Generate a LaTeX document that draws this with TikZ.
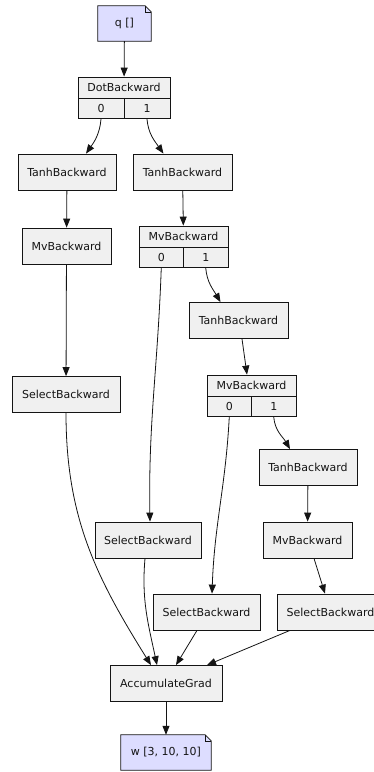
\documentclass[tikz,border=0pt]{standalone}
\usepackage{fontspec}
\setmainfont{DejaVu Sans}
\usepackage{tikz}
\usetikzlibrary{positioning, calc, arrows.meta, backgrounds}
\usepackage{xcolor}

\definecolor{fnfill}{RGB}{240,240,240}
\definecolor{tensorfill}{RGB}{221,221,255}
\definecolor{linecol}{RGB}{20,20,20}

\begin{document}
\begin{tikzpicture}[x=1pt, y=1pt,
    every node/.style={font=\fontsize{11}{13}\selectfont, text=linecol},
    fn/.style={draw=linecol, fill=fnfill, line width=0.8pt, minimum height=36pt, inner xsep=8.5pt, inner ysep=0pt},
    rec/.style={fn, minimum height=21pt},
    port/.style={fn, minimum height=20pt, inner xsep=0pt},
    tensor/.style={minimum height=35pt, inner xsep=8pt, inner ysep=0pt},
    outline/.style={draw=linecol, fill=tensorfill, line width=0.8pt},
    edge/.style={-{Triangle[length=9pt,width=7pt]}, draw=linecol, line width=0.8pt}]
  \useasboundingbox (0,0) rectangle (374,-772);

  % output and leaf tensors
  \node [tensor, minimum width=53pt] (q) at (124.5,-23.5) {q []};
  \node [tensor, minimum width=90pt] (w) at (166,-752.5) {w [3, 10, 10]};
  \begin{scope}[on background layer]
    \foreach \n in {q,w}{
      \draw [outline] (\n.south west) -- (\n.south east) -- ([yshift=-6pt]\n.north east)
        -- ([xshift=-6pt]\n.north east) -- (\n.north west) -- cycle;
      \draw [draw=linecol, line width=0.6pt] ([xshift=-6pt]\n.north east)
        -- ([xshift=-6pt,yshift=-6pt]\n.north east) -- ([yshift=-6pt]\n.north east);
    }
  \end{scope}

  % records with two ports
  \node [rec, minimum width=92pt] (dot) at (124,-87.5) {DotBackward};
  \node [port, minimum width=46pt, anchor=north west] (dot-0) at (dot.south west) {0};
  \node [port, minimum width=46pt, anchor=north east] (dot-1) at (dot.south east) {1};

  \node [rec, minimum width=89pt] (mvB) at (183.5,-236.5) {MvBackward};
  \node [port, minimum width=44.5pt, anchor=north west] (mvB-0) at (mvB.south west) {0};
  \node [port, minimum width=44.5pt, anchor=north east] (mvB-1) at (mvB.south east) {1};

  \node [rec, minimum width=89pt] (mvC) at (251.5,-385.5) {MvBackward};
  \node [port, minimum width=44.5pt, anchor=north west] (mvC-0) at (mvC.south west) {0};
  \node [port, minimum width=44.5pt, anchor=north east] (mvC-1) at (mvC.south east) {1};

  % plain backward functions
  \node [fn, minimum width=98pt] (tanhA) at (67,-172) {TanhBackward};
  \node [fn, minimum width=99pt] (tanhB) at (182.5,-172) {TanhBackward};
  \node [fn, minimum width=89pt] (mvA) at (66.5,-246) {MvBackward};
  \node [fn, minimum width=99pt] (tanhC) at (238.5,-320.5) {TanhBackward};
  \node [fn, minimum width=108pt] (selA) at (66,-394.5) {SelectBackward};
  \node [fn, minimum width=98pt] (tanhD) at (308,-467.5) {TanhBackward};
  \node [fn, minimum width=106pt] (selB) at (148,-540) {SelectBackward};
  \node [fn, minimum width=89pt] (mvD) at (307.5,-540) {MvBackward};
  \node [fn, minimum width=107pt] (selC) at (206.5,-612) {SelectBackward};
  \node [fn, minimum width=107pt] (selD) at (330.5,-612) {SelectBackward};
  \node [fn, minimum width=112pt] (acc) at (166,-683.5) {AccumulateGrad};

  % Draw the connecting arrows
  \draw [edge] (q) -- (dot);
  \draw [edge] (dot-0.south) to [out=-95, in=55] ([xshift=19pt]tanhA.north);
  \draw [edge] (dot-1.south) to [out=-85, in=125] ([xshift=-19pt]tanhB.north);
  \draw [edge] (tanhA) -- (mvA);
  \draw [edge] (tanhB) -- (mvB);
  \draw [edge] (mvB-0.south) to [out=-92, in=91] ([xshift=2pt]selB.north);
  \draw [edge] (mvB-1.south) to [out=-85, in=120] ([xshift=-18pt]tanhC.north);
  \draw [edge] ([xshift=3.5pt]tanhC.south) -- ([xshift=-4.5pt]mvC.north);
  \draw [edge] (mvA) -- (selA);
  \draw [edge] (mvC-0.south) to [out=-93, in=88] ([xshift=5.5pt]selC.north);
  \draw [edge] (mvC-1.south) to [out=-85, in=120] ([xshift=-18pt]tanhD.north);
  \draw [edge] (tanhD) -- (mvD);
  \draw [edge] ([xshift=6.5pt]mvD.south) -- ([xshift=-5.5pt]selD.north);
  \draw [edge] (selA.south) to [out=-90, in=122] ([xshift=-15pt]acc.north);
  \draw [edge] ([xshift=-3pt]selB.south) to [out=-95, in=102] ([xshift=-9pt]acc.north);
  \draw [edge] ([xshift=-9.5pt]selC.south) -- ([xshift=10pt]acc.north);
  \draw [edge] ([xshift=-40.5pt]selD.south) -- ([xshift=41pt]acc.north);
  \draw [edge] (acc) -- (w);
\end{tikzpicture}
\end{document}
